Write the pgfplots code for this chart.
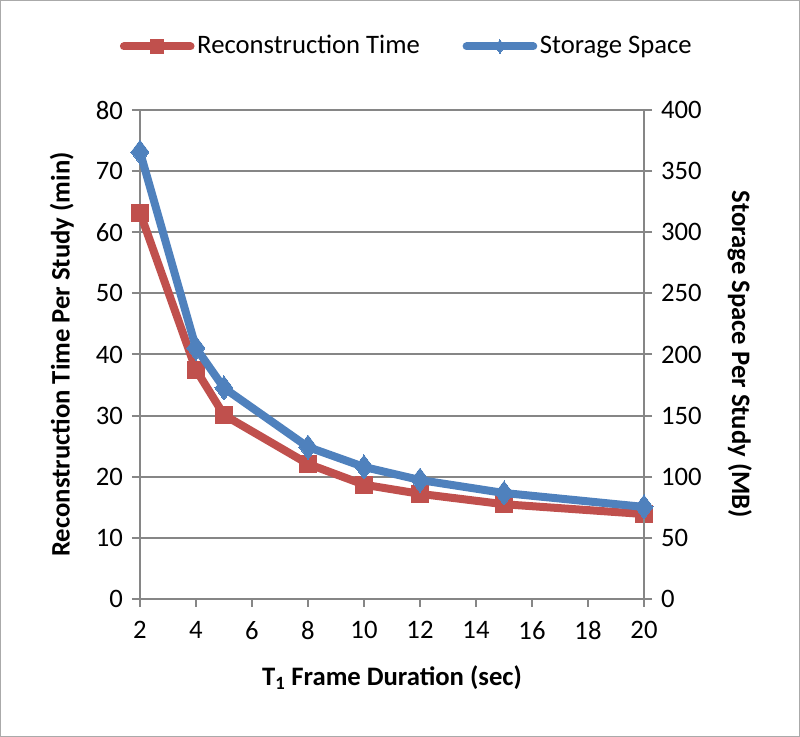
\documentclass[border=0pt]{standalone}
\usepackage{pgfplots}
\pgfplotsset{compat=1.18}
\usepackage{fontspec}
\setmainfont{Carlito}
\definecolor{cred}{RGB}{192,80,77}
\definecolor{cblue}{RGB}{79,129,189}
\definecolor{cgrid}{RGB}{134,134,134}
\begin{document}
\fontsize{20}{24}\selectfont
\begin{tikzpicture}
\useasboundingbox (-105pt,-103.5pt) rectangle (495pt,449.25pt);
\draw[cgrid!70, line width=1pt] (-104.5pt,-103pt) rectangle (494.5pt,448.75pt);
\pgfplotsset{
  common/.style={
    scale only axis, width=378pt, height=366.75pt,
    xmin=2, xmax=20,
    /pgf/number format/assume math mode=true,
    tick label style={font=\fontsize{20}{24}\selectfont, black},
    label style={font=\fontsize{20}{24}\selectfont\bfseries, black},
    axis line style={cgrid, line width=1.5pt},
    tick style={cgrid, line width=1.5pt},
    tick align=outside, major tick length=6pt,
  }
}
\begin{axis}[common,
  axis x line*=bottom, axis y line*=left,
  ymin=0, ymax=80, ytick={0,10,...,80},
  xtick={2,4,...,20},
  ymajorgrids, grid style={cgrid, line width=1.5pt},
  xlabel={T\textsubscript{1}  Frame Duration  (sec)},
  ylabel={Reconstruction Time Per Study (min)},
  xlabel style={at={(axis description cs:0.5,-0.16)}, anchor=center},
  ylabel style={at={(axis description cs:-0.155,0.5)}, anchor=center},
  xticklabel style={yshift=-4pt},
  legend columns=2,
  legend style={at={(0.53,1.13)}, anchor=center, draw=none, fill=none,
    font=\fontsize{20}{24}\selectfont, /tikz/every even column/.append style={column sep=30pt}},
  legend image code/.code={\draw[#1, line width=6pt, line cap=round] (0pt,0pt) -- (50pt,0pt); \draw[#1, line width=0pt, mark size=5pt] plot coordinates {(25pt,0pt)};},
]
\addplot[cred, line width=6pt, mark=square*, mark size=6.5pt, mark options={line width=0pt}]
  coordinates {(2,63.2) (4,37.5) (5,30.1) (8,22.1) (10,18.7) (12,17.2) (15,15.5) (20,13.9)};
\addlegendentry{Reconstruction Time}
\addlegendimage{cblue, line width=6pt, mark=diamond*, mark size=7pt, mark options={line width=0pt}}
\addlegendentry{Storage Space}
\end{axis}
\begin{axis}[common,
  axis x line=none, axis y line*=right,
  ymin=0, ymax=400, ytick={0,50,...,400},
  ylabel={Storage Space Per Study (MB)},
  ylabel style={at={(axis description cs:1.19,0.5)}, anchor=center, rotate=180},
]
\addplot[cblue, line width=6pt, mark=diamond*, mark size=9pt, mark options={line width=0pt}]
  coordinates {(2,365.6) (4,205.3) (5,172.6) (8,124.3) (10,108) (12,97.3) (15,86.7) (20,75.3)};
\end{axis}
\end{tikzpicture}
\end{document}
